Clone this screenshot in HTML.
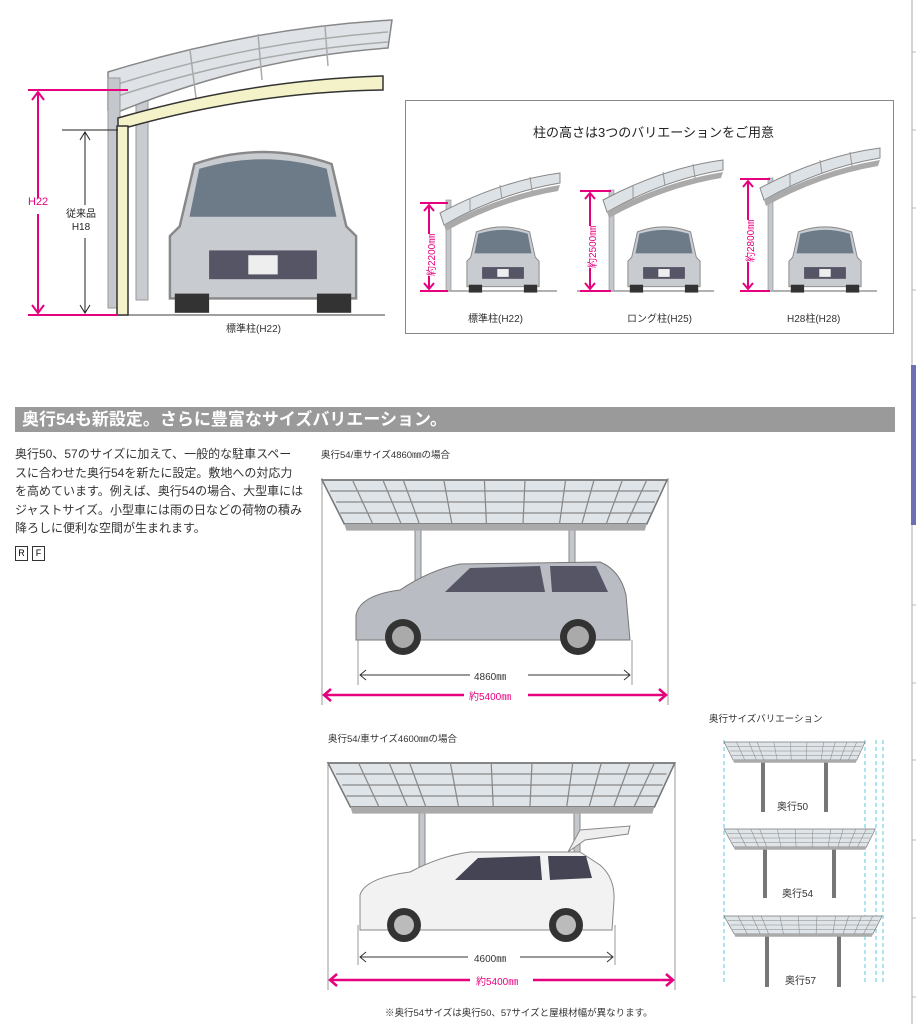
<!DOCTYPE html>
<html><head><meta charset="utf-8"><style>
html,body{margin:0;padding:0;background:#fff;}
body{width:916px;height:1024px;overflow:hidden;position:relative;font-family:"Liberation Sans","Noto Sans CJK JP",sans-serif;}
.t{position:absolute;white-space:nowrap;color:#333;}
.r{position:absolute;white-space:nowrap;color:#e6007e;font-size:10px;transform:rotate(-90deg);transform-origin:0 0;background:#fff;}
</style></head><body>
<svg width="916" height="1024" style="position:absolute;left:0;top:0" xmlns="http://www.w3.org/2000/svg">
<defs>
<g id="flat">
 <polygon points="0,0 340,0 320,40 22,40" fill="#dfe4e8" stroke="#777" stroke-width="1.5"/>
 <polygon points="22,40 320,40 318,46 24,46" fill="#aaa"/>
 <g stroke="#888" stroke-width="1.2">
 <line x1="8" y1="10" x2="332" y2="10"/><line x1="14" y1="20" x2="328" y2="20"/><line x1="18" y1="30" x2="324" y2="30"/>
 <line x1="30" y1="0" x2="50" y2="40"/><line x1="60" y1="0" x2="78" y2="40"/><line x1="80" y1="0" x2="96" y2="40"/>
 <line x1="120" y1="0" x2="128" y2="40"/><line x1="160" y1="0" x2="162" y2="40"/><line x1="200" y1="0" x2="198" y2="40"/>
 <line x1="240" y1="0" x2="234" y2="40"/><line x1="268" y1="0" x2="256" y2="40"/><line x1="296" y1="0" x2="280" y2="40"/><line x1="320" y1="0" x2="300" y2="40"/>
 </g>
</g>
<g id="curv">
 <path d="M0,40 Q60,8 120,0 L120,10 Q60,20 4,52 Z" fill="#dde2e6" stroke="#888"/>
 <path d="M4,52 Q60,22 120,12 L118,18 Q60,28 6,58Z" fill="#aaa"/>
 <line x1="30" y1="25" x2="30" y2="38" stroke="#999"/><line x1="60" y1="12" x2="62" y2="26" stroke="#999"/><line x1="90" y1="4" x2="92" y2="18" stroke="#999"/>
</g>
<g id="carf">
 <path d="M12,10 Q40,0 68,10 L74,36 L78,40 L78,66 L2,66 L2,40 L6,36 Z" fill="#c8ccd0" stroke="#888"/>
 <path d="M14,12 Q40,4 66,12 L70,32 L10,32 Z" fill="#6d7a88"/>
 <rect x="18" y="46" width="44" height="12" fill="#556"/>
 <rect x="34" y="48" width="12" height="8" fill="#eee"/>
 <rect x="4" y="64" width="14" height="8" fill="#333"/><rect x="62" y="64" width="14" height="8" fill="#333"/>
</g>
</defs>

<line x1="28" y1="315" x2="385" y2="315" stroke="#666" stroke-width="1.2"/>
<rect x="136" y="98" width="12" height="202" fill="#c8ccd0" stroke="#999"/>
<path d="M108,72 Q250,28 392,20 L388,48 Q250,58 118,112 L108,110 Z" fill="#dfe3e7" stroke="#888" stroke-width="1.5"/>
<g stroke="#aaa" stroke-width="1.5" fill="none">
<path d="M118,84 Q250,42 388,32"/><path d="M118,96 Q250,52 388,42"/>
<line x1="190" y1="50" x2="196" y2="98"/><line x1="258" y1="34" x2="262" y2="80"/><line x1="325" y1="26" x2="328" y2="66"/>
</g>
<rect x="108" y="78" width="12" height="230" fill="#c4c8cc" stroke="#999"/>
<path d="M118,118 Q250,80 383,76 L383,90 Q250,92 118,130 Z" fill="#f4f2c8" stroke="#333" stroke-width="1.5"/>
<rect x="117" y="126" width="11" height="189" fill="#f4f2c8" stroke="#333" stroke-width="1.5"/>
<g transform="translate(165,140) scale(2.45,2.4)"><use href="#carf"/></g>
<g stroke="#e6007e" stroke-width="2" fill="none">
<line x1="28" y1="90" x2="128" y2="90"/><line x1="28" y1="315" x2="118" y2="315"/>
<line x1="38" y1="92" x2="38" y2="198"/><line x1="38" y1="214" x2="38" y2="313"/>
<polyline points="32,100 38,92 44,100"/><polyline points="32,305 38,313 44,305"/>
</g>
<g stroke="#222" stroke-width="1" fill="none">
<line x1="62" y1="130" x2="118" y2="130"/>
<line x1="85" y1="132" x2="85" y2="205"/><line x1="85" y1="238" x2="85" y2="313"/>
<polyline points="80,140 85,132 90,140"/><polyline points="80,305 85,313 90,305"/>
</g>

<rect x="405.5" y="100.5" width="488" height="233" fill="#fff" stroke="#888"/>
<line x1="420" y1="291" x2="557" y2="291" stroke="#666"/>
<rect x="446" y="200" width="5" height="91" fill="#c4c8cc" stroke="#888" stroke-width=".6"/>
<g transform="translate(440,173)"><use href="#curv"/></g>
<g transform="translate(465,222) scale(0.95,0.98)"><use href="#carf"/></g>
<line x1="577" y1="291" x2="714" y2="291" stroke="#666"/>
<rect x="609" y="190" width="5" height="101" fill="#c4c8cc" stroke="#888" stroke-width=".6"/>
<g transform="translate(603,160)"><use href="#curv"/></g>
<g transform="translate(626,222) scale(0.95,0.98)"><use href="#carf"/></g>
<line x1="740" y1="291" x2="877" y2="291" stroke="#666"/>
<rect x="768" y="178" width="5" height="113" fill="#c4c8cc" stroke="#888" stroke-width=".6"/>
<g transform="translate(760,148)"><use href="#curv"/></g>
<g transform="translate(787,222) scale(0.95,0.98)"><use href="#carf"/></g>
<g stroke="#e6007e" stroke-width="2" fill="none">
<line x1="420" y1="203" x2="448" y2="203"/><line x1="420" y1="291" x2="448" y2="291"/><line x1="429" y1="205" x2="429" y2="289"/>
<polyline points="424,211 429,205 434,211"/><polyline points="424,283 429,289 434,283"/>
<line x1="580" y1="191" x2="611" y2="191"/><line x1="580" y1="291" x2="611" y2="291"/><line x1="590" y1="193" x2="590" y2="289"/>
<polyline points="585,199 590,193 595,199"/><polyline points="585,283 590,289 595,283"/>
<line x1="740" y1="179" x2="770" y2="179"/><line x1="740" y1="291" x2="770" y2="291"/><line x1="748" y1="181" x2="748" y2="289"/>
<polyline points="743,187 748,181 753,187"/><polyline points="743,283 748,289 753,283"/>
</g>

<rect x="15" y="407" width="880" height="25" fill="#9a9a9a"/>

<g stroke="#999" stroke-width="1"><line x1="322" y1="478" x2="322" y2="705"/><line x1="668" y1="478" x2="668" y2="705"/><line x1="358" y1="640" x2="358" y2="685"/><line x1="632" y1="640" x2="632" y2="685"/></g>
<rect x="415" y="520" width="6" height="72" fill="#c4c8cc" stroke="#888"/>
<rect x="569" y="520" width="6" height="68" fill="#c4c8cc" stroke="#888"/>
<g transform="translate(322,480) scale(1.015,1.1)"><use href="#flat"/></g>
<path d="M356,615 Q360,595 400,590 Q430,570 460,564 L600,562 Q620,570 626,595 L630,640 L356,640 Z" fill="#b9bcc2" stroke="#777"/>
<path d="M445,592 L470,568 L540,566 L545,592 Z" fill="#556" /><path d="M550,566 L596,566 L608,592 L552,592Z" fill="#556"/>
<circle cx="403" cy="637" r="18" fill="#333"/><circle cx="403" cy="637" r="11" fill="#aaa"/>
<circle cx="578" cy="637" r="18" fill="#333"/><circle cx="578" cy="637" r="11" fill="#aaa"/>
<g stroke="#333" stroke-width="1" fill="none"><line x1="360" y1="675" x2="470" y2="675"/><line x1="528" y1="675" x2="630" y2="675"/><polyline points="366,670 360,675 366,680"/><polyline points="624,670 630,675 624,680"/></g>
<g stroke="#e6007e" stroke-width="2.5" fill="none"><line x1="324" y1="695" x2="464" y2="695"/><line x1="528" y1="695" x2="666" y2="695"/><polyline points="331,689 324,695 331,701"/><polyline points="659,689 666,695 659,701"/></g>

<g stroke="#999" stroke-width="1"><line x1="328" y1="762" x2="328" y2="990"/><line x1="675" y1="762" x2="675" y2="990"/><line x1="358" y1="925" x2="358" y2="965"/><line x1="615" y1="925" x2="615" y2="965"/></g>
<rect x="419" y="805" width="6" height="70" fill="#c4c8cc" stroke="#888"/>
<rect x="574" y="805" width="6" height="50" fill="#c4c8cc" stroke="#888"/>
<g transform="translate(328,763) scale(1.02,1.1)"><use href="#flat"/></g>
<path d="M360,895 Q365,878 410,872 Q440,856 470,852 L580,852 L600,865 Q615,878 614,900 L612,930 L360,930 Z" fill="#f2f2f2" stroke="#888"/>
<path d="M568,852 L580,830 L630,826 L628,834 L585,840 Z" fill="#eee" stroke="#888"/>
<path d="M455,880 L478,858 L540,856 L542,880 Z" fill="#445"/><path d="M548,856 L586,856 L592,878 L550,880Z" fill="#445"/>
<circle cx="404" cy="925" r="17" fill="#333"/><circle cx="404" cy="925" r="10" fill="#bbb"/>
<circle cx="566" cy="925" r="17" fill="#333"/><circle cx="566" cy="925" r="10" fill="#bbb"/>
<g stroke="#333" stroke-width="1" fill="none"><line x1="360" y1="957" x2="468" y2="957"/><line x1="520" y1="957" x2="613" y2="957"/><polyline points="366,952 360,957 366,962"/><polyline points="607,952 613,957 607,962"/></g>
<g stroke="#e6007e" stroke-width="2.5" fill="none"><line x1="330" y1="980" x2="470" y2="980"/><line x1="533" y1="980" x2="673" y2="980"/><polyline points="337,974 330,980 337,986"/><polyline points="666,974 673,980 666,986"/></g>

<g stroke="#5bc8e0" stroke-width="1" stroke-dasharray="4,3"><line x1="724" y1="740" x2="724" y2="985"/><line x1="865" y1="740" x2="865" y2="985"/><line x1="876" y1="740" x2="876" y2="985"/><line x1="883" y1="740" x2="883" y2="985"/></g>
<rect x="761" y="760" width="4" height="52" fill="#777"/><rect x="824" y="760" width="4" height="52" fill="#777"/>
<g transform="translate(724,742) scale(0.415,0.45)"><use href="#flat"/></g>
<rect x="763" y="846" width="4" height="52" fill="#777"/><rect x="832" y="846" width="4" height="52" fill="#777"/>
<g transform="translate(724,829) scale(0.445,0.45)"><use href="#flat"/></g>
<rect x="765" y="933" width="4" height="54" fill="#777"/><rect x="837" y="933" width="4" height="54" fill="#777"/>
<g transform="translate(724,916) scale(0.465,0.45)"><use href="#flat"/></g>

<line x1="912" y1="0" x2="912" y2="1024" stroke="#aaa"/>
<rect x="911" y="365" width="5" height="160" fill="#6c6fb4"/>
<g stroke="#bbb"><line x1="912" y1="52" x2="916" y2="52"/><line x1="912" y1="130" x2="916" y2="130"/><line x1="912" y1="208" x2="916" y2="208"/><line x1="912" y1="290" x2="916" y2="290"/><line x1="912" y1="605" x2="916" y2="605"/><line x1="912" y1="683" x2="916" y2="683"/><line x1="912" y1="760" x2="916" y2="760"/><line x1="912" y1="840" x2="916" y2="840"/><line x1="912" y1="918" x2="916" y2="918"/><line x1="912" y1="997" x2="916" y2="997"/></g>
</svg>

<div class="t" style="left:28px;top:196px;font-size:11px;color:#e6007e">H22</div>
<div class="t" style="left:66px;top:208px;font-size:10px;line-height:13px;text-align:center;color:#222">従来品<br>H18</div>
<div class="t" style="left:226px;top:320px;font-size:10px">標準柱(H22)</div>
<div class="t" style="left:533px;top:122px;font-size:13px;color:#222">柱の高さは3つのバリエーションをご用意</div>
<div class="t" style="left:468px;top:310px;font-size:10px">標準柱(H22)</div>
<div class="t" style="left:627px;top:310px;font-size:10px">ロング柱(H25)</div>
<div class="t" style="left:787px;top:310px;font-size:10px">H28柱(H28)</div>
<div class="r" style="left:423px;top:276px">約2200㎜</div>
<div class="r" style="left:584px;top:268px">約2500㎜</div>
<div class="r" style="left:742px;top:262px">約2800㎜</div>

<div class="t" style="left:22px;top:408px;font-size:17px;font-weight:bold;color:#fff;line-height:23px">奥行54も新設定。さらに豊富なサイズバリエーション。</div>
<div class="t" style="left:15px;top:445px;font-size:12px;line-height:18.6px;color:#333">奥行50、57のサイズに加えて、一般的な駐車スペー<br>スに合わせた奥行54を新たに設定。敷地への対応力<br>を高めています。例えば、奥行54の場合、大型車には<br>ジャストサイズ。小型車には雨の日などの荷物の積み<br>降ろしに便利な空間が生まれます。</div>
<div style="position:absolute;left:15px;top:546px;width:11px;height:13px;border:1px solid #333;font-size:9px;text-align:center;line-height:13px">R</div>
<div style="position:absolute;left:32px;top:546px;width:11px;height:13px;border:1px solid #333;font-size:9px;text-align:center;line-height:13px">F</div>
<div class="t" style="left:321px;top:447px;font-size:9.5px">奥行54/車サイズ4860㎜の場合</div>
<div class="t" style="left:474px;top:668px;font-size:10px">4860㎜</div>
<div class="t" style="left:469px;top:688px;font-size:10px;color:#e6007e">約5400㎜</div>
<div class="t" style="left:328px;top:731px;font-size:9.5px">奥行54/車サイズ4600㎜の場合</div>
<div class="t" style="left:474px;top:950px;font-size:10px">4600㎜</div>
<div class="t" style="left:476px;top:973px;font-size:10px;color:#e6007e">約5400㎜</div>
<div class="t" style="left:709px;top:711px;font-size:9.5px">奥行サイズバリエーション</div>
<div class="t" style="left:777px;top:798px;font-size:10px">奥行50</div>
<div class="t" style="left:782px;top:885px;font-size:10px">奥行54</div>
<div class="t" style="left:785px;top:972px;font-size:10px">奥行57</div>
<div class="t" style="left:385px;top:1005px;font-size:9.5px">※奥行54サイズは奥行50、57サイズと屋根材幅が異なります。</div>
</body></html>
